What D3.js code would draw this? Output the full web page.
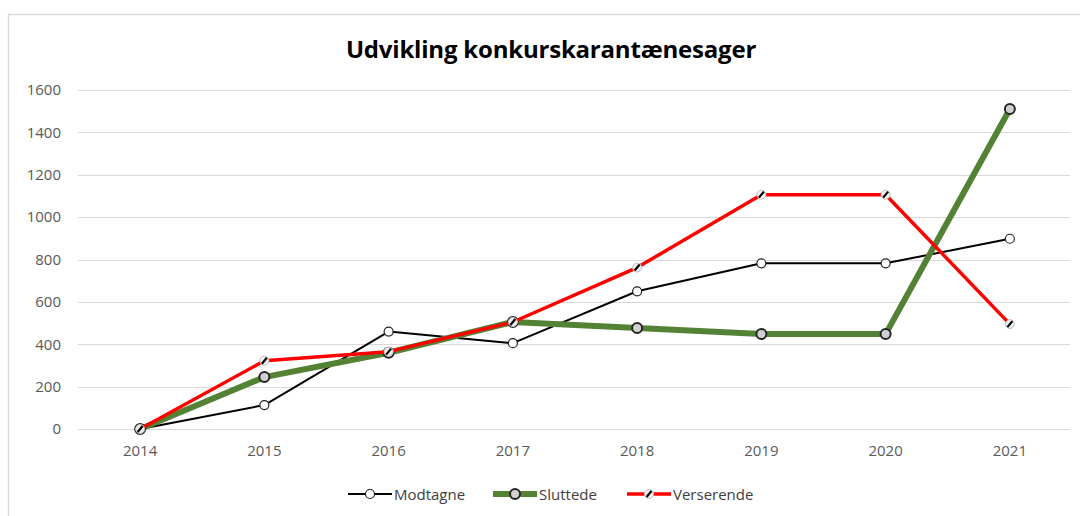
<!DOCTYPE html>
<html>
<head>
<meta charset="utf-8">
<script src="https://cdn.jsdelivr.net/npm/d3@7"></script>
<style>
  body { margin: 0; background: #fff; }
  svg { display: block; font-family: "Open Sans", "DejaVu Sans", sans-serif; }
</style>
</head>
<body>
<div id="chart"></div>
<script>
// Data
const years = ['2014', '2015', '2016', '2017', '2018', '2019', '2020', '2021'];
const modtagne = [0, 113, 460, 405, 650, 782, 782, 898];
const sluttede = [0, 245, 360, 505, 477, 448, 448, 1510];
const verserende = [0, 322, 365, 505, 762, 1106, 1106, 495];
const yTicks = [0, 200, 400, 600, 800, 1000, 1200, 1400, 1600];

const seriesNames = ['Modtagne', 'Sluttede', 'Verserende'];

const width = 1080;
const height = 516;
const margin = { top: 90, right: 8, bottom: 87, left: 78 };
const innerWidth = width - margin.left - margin.right;
const innerHeight = height - margin.top - margin.bottom;

const svg = d3.select('#chart')
    .append('svg')
    .attr('width', width)
    .attr('height', height);

// chart area border (top and left edges are the only ones visible)
svg.append('path')
    .attr('d', `M8.5,${height} V14.5 H${width}`)
    .attr('fill', 'none')
    .attr('stroke', '#d9d9d9')
    .attr('stroke-width', 1.5);

svg.append('text')
    .attr('x', 551)
    .attr('y', 58)
    .attr('text-anchor', 'middle')
    .attr('font-family', '"Open Sans", sans-serif')
    .attr('font-weight', 'bold')
    .attr('font-size', 24)
    .attr('letter-spacing', -0.2)
    .attr('fill', '#000')
    .text('Udvikling konkurskarantænesager');

const chart = svg.append('g')
    .attr('transform', `translate(${margin.left}, ${margin.top})`);

const xScale = d3.scaleBand()
    .domain(years)
    .range([0, innerWidth]);

const yScale = d3.scaleLinear()
    .domain([0, 1600])
    .range([innerHeight, 0]);

// gridlines
chart.append('g')
    .selectAll('line')
    .data(yTicks)
    .enter()
    .append('line')
    .attr('x1', 0)
    .attr('x2', innerWidth - 2)
    .attr('y1', d => Math.round(yScale(d)) + 0.5)
    .attr('y2', d => Math.round(yScale(d)) + 0.5)
    .attr('stroke', '#d9d9d9')
    .attr('stroke-width', 1);

function styleAxis(g) {
    g.attr('font-size', 15)
        .attr('font-family', '"Open Sans", sans-serif')
        .attr('fill', null);
    g.select('.domain').remove();
    g.selectAll('text').attr('fill', '#595959');
}

// y axis labels
const yAxis = d3.axisLeft(yScale).tickValues(yTicks).tickFormat(d3.format('d')).tickSize(0).tickPadding(17);
chart.append('g')
    .call(yAxis)
    .call(styleAxis);

// x axis labels
const xAxis = d3.axisBottom(xScale).tickSize(0).tickPadding(16);
chart.append('g')
    .attr('transform', `translate(0, ${innerHeight})`)
    .call(xAxis)
    .call(styleAxis);

const cx = d => xScale(d) + xScale.bandwidth() / 2;

const styles = {
    Modtagne: { color: '#000000', width: 2 },
    Sluttede: { color: '#548235', width: 6 },
    Verserende: { color: '#ff0000', width: 3.5 }
};
const seriesData = { Modtagne: modtagne, Sluttede: sluttede, Verserende: verserende };

const line = d3.line()
    .x(d => cx(d.year))
    .y(d => yScale(d.value));

function drawMarker(g, name) {
    if (name === 'Modtagne') {
        g.append('circle').attr('r', 4.5).attr('fill', '#fff').attr('stroke', '#222').attr('stroke-width', 1.2);
    } else if (name === 'Sluttede') {
        g.append('circle').attr('r', 5).attr('fill', '#d0d0d0').attr('stroke', '#262626').attr('stroke-width', 2);
    } else {
        g.append('circle').attr('r', 4.5).attr('fill', '#f2f2f2').attr('stroke', '#bfbfbf').attr('stroke-width', 1);
        g.append('line').attr('x1', -2.5).attr('y1', 3).attr('x2', 2.5).attr('y2', -3)
            .attr('stroke', '#000').attr('stroke-width', 2.2);
    }
}

seriesNames.forEach(name => {
    const pts = years.map((y, i) => ({ year: y, value: seriesData[name][i] }));
    chart.append('path')
        .datum(pts)
        .attr('fill', 'none')
        .attr('stroke', styles[name].color)
        .attr('stroke-width', styles[name].width)
        .attr('stroke-linejoin', 'round')
        .attr('d', line);
    chart.append('g')
        .selectAll('g')
        .data(pts)
        .enter()
        .append('g')
        .attr('transform', d => `translate(${cx(d.year)}, ${yScale(d.value)})`)
        .each(function () { drawMarker(d3.select(this), name); });
});

// legend
const legendItems = [
    { name: 'Modtagne', x: 348 },
    { name: 'Sluttede', x: 493 },
    { name: 'Verserende', x: 627 }
];
const legend = svg.append('g').attr('transform', 'translate(0, 494)');
legendItems.forEach(item => {
    const g = legend.append('g').attr('transform', `translate(${item.x}, 0)`);
    g.append('line')
        .attr('x1', 0).attr('x2', 44)
        .attr('y1', 0).attr('y2', 0)
        .attr('stroke', styles[item.name].color)
        .attr('stroke-width', styles[item.name].width);
    const m = g.append('g').attr('transform', 'translate(22, 0)');
    drawMarker(m, item.name);
    g.append('text')
        .attr('x', 46)
        .attr('y', 5.5)
        .attr('fill', '#404040')
        .attr('font-size', 15)
        .attr('font-family', '"Open Sans", sans-serif')
        .text(item.name);
});
</script>
</body>
</html>
